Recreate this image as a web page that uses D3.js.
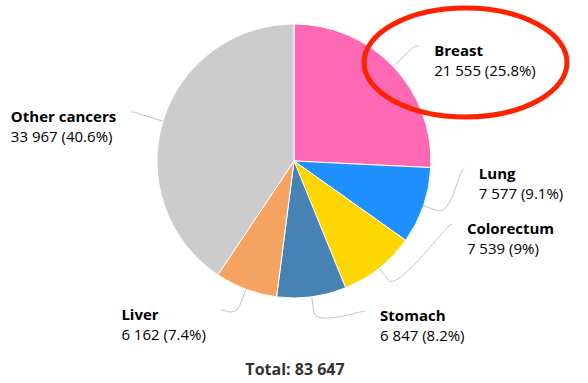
<!DOCTYPE html>
<html><head><meta charset="utf-8">
<script src="https://cdn.jsdelivr.net/npm/d3@7"></script>
<style>
html,body{margin:0;padding:0;background:#fff;}
svg{display:block;font-family:"Open Sans",sans-serif;}
</style></head><body>
<svg id="chart" width="588" height="383"></svg>
<script>
// ---- data ----
const categories = ["Breast", "Lung", "Colorectum", "Stomach", "Liver", "Other cancers"];
const values = [21555, 7577, 7539, 6847, 6162, 33967];
const colors = ["#ff69b4", "#1e90ff", "#ffd700", "#4682b4", "#f4a460", "#cccccc"];
const highlighted = "Breast";

// ---- layout (label anchor rows after label distribution, label distance) ----
const labelAnchorY = [46, 169, 224, 311, 310, 112];
const labelDist = [33, 33, 33, 29, 29, 33];

const cx = 294, cy = 161, r = 137, breakDist = 15, textGap = 15;
const fontSize = 15, lineH = 20;

const svg = d3.select("#chart");
const total = d3.sum(values);
const fmtNum = v => d3.format(",")(v).replace(/,/g, " ");
const fmtPct = v => d3.format(".1~f")(v);

const data = categories.map((c, i) => ({ name: c, value: values[i], color: colors[i], i }));
const pie = d3.pie().sort(null).value(d => d.value);
const arcs = pie(data);
const arc = d3.arc().innerRadius(0).outerRadius(r);

const g = svg.append("g").attr("transform", `translate(${cx},${cy})`);

// connectors
const connG = g.append("g");
// slices
g.append("g").selectAll("path").data(arcs).join("path")
  .attr("d", arc)
  .attr("fill", d => d.data.color)
  .attr("stroke", "#fff")
  .attr("stroke-width", 1)
  .attr("stroke-linejoin", "round");

const labG = g.append("g");

arcs.forEach((a, i) => {
  const mid = (a.startAngle + a.endAngle) / 2;
  const sx = Math.sin(mid), sy = -Math.cos(mid);
  const right = mid < Math.PI;
  const tx = r * sx, ty = r * sy;
  const bx = (r + breakDist) * sx, by = (r + breakDist) * sy;
  const R = r + labelDist[i];
  const ly = labelAnchorY[i] - cy;
  const lx = (right ? 1 : -1) * Math.sqrt(Math.max(0, R * R - ly * ly));
  const c1x = lx + (right ? -5 : 5);
  const p = d3.path();
  p.moveTo(lx, ly);
  p.bezierCurveTo(c1x, ly, 2 * bx - tx, 2 * by - ty, bx, by);
  p.lineTo(tx, ty);
  connG.append("path").attr("d", p.toString())
    .attr("fill", "none").attr("stroke", "#c2c2c2").attr("stroke-width", 1);

  const t = labG.append("text")
    .attr("font-size", fontSize)
    .attr("fill", "#000");
  const t1 = t.append("tspan").attr("font-weight", 700).attr("y", ly + 9.5).text(a.data.name);
  const t2 = t.append("tspan").attr("font-weight", 400).attr("y", ly + 9.5 + lineH)
    .text(`${fmtNum(a.data.value)} (${fmtPct(a.data.value / total * 100)}%)`);
  let x0;
  if (right) {
    x0 = lx + textGap;
  } else {
    const w = Math.max(t1.node().getComputedTextLength(), t2.node().getComputedTextLength());
    x0 = lx - textGap - w;
  }
  t1.attr("x", x0);
  t2.attr("x", x0);
});

// total
svg.append("text")
  .attr("x", 295).attr("y", 375)
  .attr("text-anchor", "middle")
  .attr("font-size", 16).attr("font-weight", 700)
  .attr("fill", "#333")
  .text(`Total: ${fmtNum(total)}`);

// highlight ellipse around the Breast label
const hi = categories.indexOf(highlighted);
svg.append("ellipse")
  .attr("cx", 465.5).attr("cy", labelAnchorY[hi] + 16.5)
  .attr("rx", 101.5).attr("ry", 54.5)
  .attr("fill", "none")
  .attr("stroke", "#ff2200")
  .attr("stroke-width", 5);
</script>
</body></html>
